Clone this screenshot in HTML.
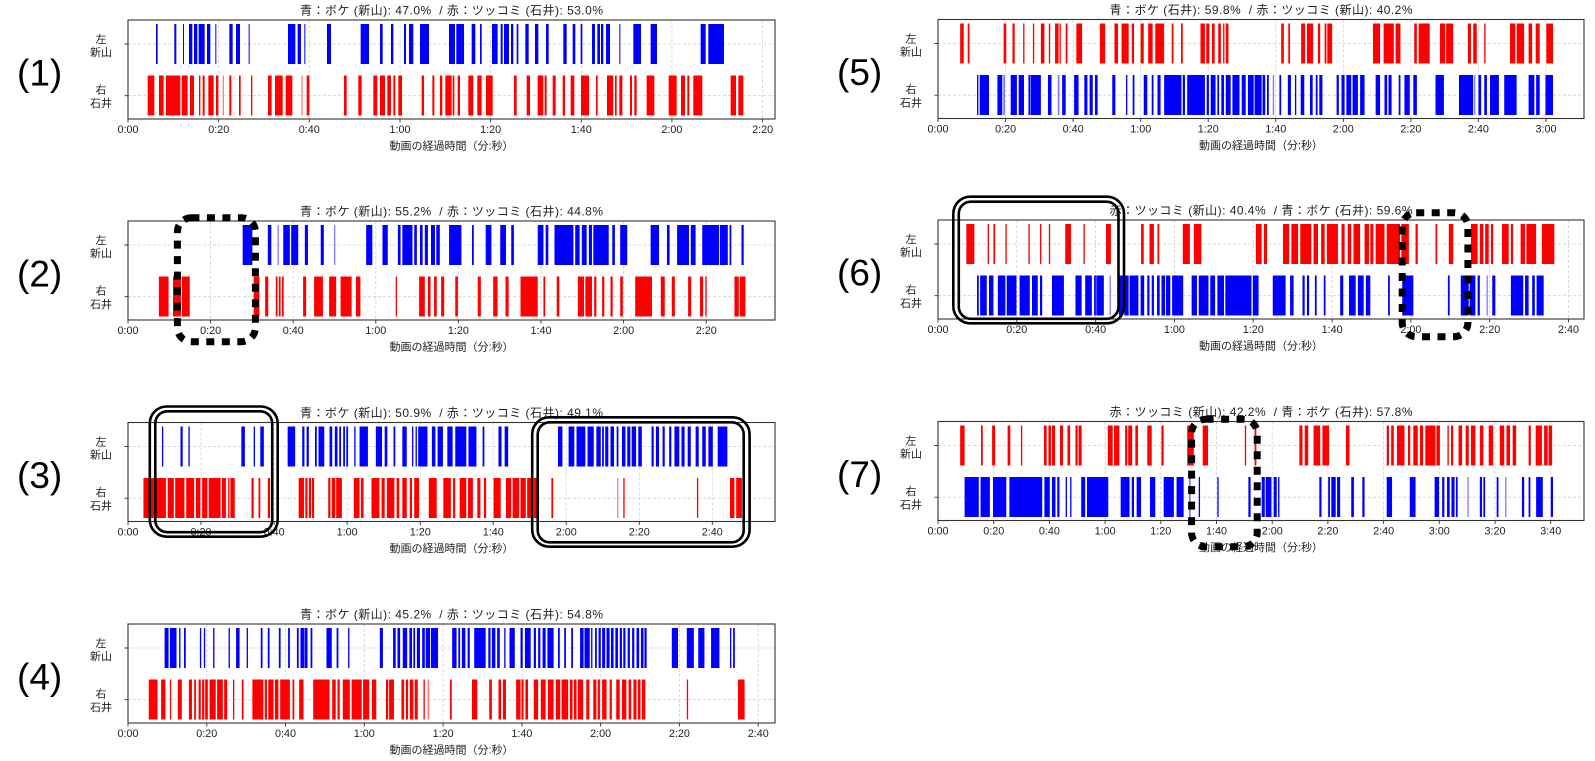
<!DOCTYPE html>
<html><head><meta charset="utf-8"><style>
html,body{margin:0;padding:0;background:#fff;}
svg{display:block}
text{font-family:"Liberation Sans","Noto Sans CJK JP",sans-serif;fill:#222}
.g{stroke:#d0d0d0;stroke-width:0.8;stroke-dasharray:3 2;fill:none}
.ax{fill:none;stroke:#333;stroke-width:1.1}
.tk{stroke:#333;stroke-width:0.9;fill:none}
.tl{font-size:10.8px;text-anchor:middle}
.tt{font-size:12px;text-anchor:middle}
.xl{font-size:11px;text-anchor:middle}
.yl{font-size:11px;text-anchor:middle}
.n{font-size:37px;fill:#000}
.b{fill:#0000ff}.r{fill:#ff0000}.lb{fill:#7f7fff}.lr{fill:#ff8080}
.dot{fill:none;stroke:#000;stroke-width:7;stroke-dasharray:8 7.5}
.dbl{fill:none;stroke:#000;stroke-width:2.6}
</style></head><body>
<svg width="1595" height="761" viewBox="0 0 1595 761" xmlns="http://www.w3.org/2000/svg">
<rect width="1595" height="761" fill="#fff"/>

<!-- ============ PANEL 1 ============ -->
<g transform="translate(0,20)">
<text class="n" x="17" y="65.5">(1)</text>
<text class="tt" x="451.5" y="-5.3" textLength="303" lengthAdjust="spacing" xml:space="preserve">青：ボケ (新山): 47.0%  / 赤：ツッコミ (石井): 53.0%</text>
<path class="g" d="M218.7 0V99M309.3 0V99M400 0V99M490.6 0V99M581.3 0V99M671.9 0V99M762.6 0V99M128 24H775M128 75.7H775"/>
<g transform="scale(0.33333,1)">
<path class="b" transform="translate(0,4)" d="M468 0H473V40H468zM523 0H529V40H523zM549 0H552V40H549zM567 0H577V40H567zM582 0H592V40H582zM596 0H614V40H596zM621 0H631V40H621zM646 0H649V40H646zM688 0H698V40H688zM708 0H720V40H708zM746 0H749V40H746zM864 0H886V40H864zM893 0H903V40H893zM913 0H916V40H913zM981 0H993V40H981zM1082 0H1107V40H1082z"/>
<path class="r" transform="translate(0,55.5)" d="M443 0H463V40H443zM477 0H491V40H477zM498 0H541V40H498zM545 0H563V40H545zM570 0H582V40H570zM597 0H601V40H597zM608 0H614V40H608zM625 0H641V40H625zM648 0H655V40H648zM688 0H694V40H688zM717 0H722V40H717zM753 0H757V40H753zM804 0H815V40H804zM825 0H848V40H825zM857 0H877V40H857zM920 0H928V40H920zM1032 0H1040V40H1032zM1075 0H1085V40H1075zM1120 0H1132V40H1120z"/>
<path class="lr" transform="translate(0,55.5)" d="M668 0H672V40H668zM904 0H908V40H904z"/>
</g>
<g transform="translate(380,0) scale(0.33333,1)">
<path class="b" transform="translate(0,4)" d="M0 0H8V40H0zM33 0H40V40H33zM72 0H78V40H72zM87 0H100V40H87zM120 0H147V40H120zM207 0H225V40H207zM229 0H252V40H229zM275 0H286V40H275zM300 0H305V40H300zM336 0H353V40H336zM362 0H368V40H362zM372 0H387V40H372zM393 0H400V40H393zM410 0H415V40H410zM436 0H446V40H436zM465 0H475V40H465zM498 0H506V40H498zM550 0H560V40H550zM578 0H586V40H578zM602 0H607V40H602zM636 0H645V40H636zM652 0H660V40H652zM663 0H670V40H663zM678 0H690V40H678zM718 0H721V40H718zM760 0H783V40H760zM812 0H831V40H812zM962 0H977V40H962zM985 0H1032V40H985z"/>
<path class="r" transform="translate(0,55.5)" d="M0 0H15V40H0zM22 0H33V40H22zM40 0H46V40H40zM55 0H66V40H55zM125 0H132V40H125zM157 0H163V40H157zM180 0H187V40H180zM196 0H215V40H196zM218 0H223V40H218zM233 0H240V40H233zM265 0H280V40H265zM292 0H305V40H292zM318 0H338V40H318zM402 0H410V40H402zM440 0H450V40H440zM473 0H490V40H473zM494 0H500V40H494zM518 0H527V40H518zM548 0H555V40H548zM572 0H583V40H572zM603 0H627V40H603zM648 0H653V40H648zM681 0H700V40H681zM705 0H710V40H705zM718 0H727V40H718zM750 0H756V40H750zM763 0H770V40H763zM800 0H823V40H800zM866 0H890V40H866zM903 0H915V40H903zM922 0H928V40H922zM940 0H967V40H940zM1052 0H1068V40H1052zM1075 0H1090V40H1075z"/>
</g>
<rect class="ax" x="128" y="0" width="647" height="99"/>
<path class="tk" d="M128 99v3.5M218.7 99v3.5M309.3 99v3.5M400 99v3.5M490.6 99v3.5M581.3 99v3.5M671.9 99v3.5M762.6 99v3.5M128 24h-3.5M128 75.7h-3.5"/>
<text class="tl" x="128" y="113">0:00</text><text class="tl" x="218.7" y="113">0:20</text><text class="tl" x="309.3" y="113">0:40</text><text class="tl" x="400" y="113">1:00</text><text class="tl" x="490.6" y="113">1:20</text><text class="tl" x="581.3" y="113">1:40</text><text class="tl" x="671.9" y="113">2:00</text><text class="tl" x="762.6" y="113">2:20</text>
<text class="xl" x="451.5" y="129.3">動画の経過時間（分:秒）</text>
<text class="yl" x="101" y="23">左</text><text class="yl" x="101" y="36">新山</text>
<text class="yl" x="101" y="73.3">右</text><text class="yl" x="101" y="87">石井</text>
</g>

<!-- ============ PANEL 2 ============ -->
<g transform="translate(0,221)">
<text class="n" x="17" y="65.5">(2)</text>
<text class="tt" x="451.5" y="-5.3" textLength="303" lengthAdjust="spacing" xml:space="preserve">青：ボケ (新山): 55.2%  / 赤：ツッコミ (石井): 44.8%</text>
<path class="g" d="M210.6 0V99M293.2 0V99M375.8 0V99M458.4 0V99M541 0V99M623.6 0V99M706.2 0V99M128 24H775M128 75.7H775"/>
<g transform="translate(128,0) scale(0.44104,1) translate(-58,0)">
<path class="b" transform="translate(0,4)" d="M318 0H340V40H318zM375 0H383V40H375zM410 0H425V40H410zM428 0H444V40H428zM459 0H466V40H459zM495 0H502V40H495zM598 0H612V40H598zM635 0H647V40H635zM670 0H676V40H670zM680 0H703V40H680zM707 0H713V40H707zM720 0H726V40H720zM731 0H738V40H731zM745 0H754V40H745zM757 0H765V40H757zM786 0H814V40H786zM838 0H842V40H838zM869 0H882V40H869zM902 0H915V40H902zM927 0H933V40H927zM987 0H1000V40H987zM1005 0H1011V40H1005zM1025 0H1068V40H1025zM1072 0H1082V40H1072zM1087 0H1098V40H1087zM1103 0H1110V40H1103zM1113 0H1148V40H1113zM1156 0H1162V40H1156zM1174 0H1190V40H1174zM1243 0H1262V40H1243zM1280 0H1286V40H1280zM1303 0H1330V40H1303zM1334 0H1345V40H1334zM1360 0H1398V40H1360zM1400 0H1418V40H1400zM1422 0H1426V40H1422zM1449 0H1454V40H1449z"/>
<path class="lb" transform="translate(0,4)" d="M397 0H400V40H397zM525 0H528V40H525z"/>
<path class="r" transform="translate(0,55.5)" d="M128 0H150V40H128zM160 0H178V40H160zM180 0H198V40H180zM343 0H356V40H343zM369 0H376V40H369zM393 0H397V40H393zM400 0H404V40H400zM407 0H411V40H407zM455 0H462V40H455zM480 0H500V40H480zM514 0H530V40H514zM540 0H565V40H540zM575 0H585V40H575zM665 0H668V40H665zM718 0H731V40H718zM738 0H744V40H738zM752 0H758V40H752zM768 0H775V40H768zM800 0H806V40H800zM851 0H858V40H851zM886 0H896V40H886zM914 0H921V40H914zM948 0H987V40H948zM1000 0H1004V40H1000zM1030 0H1036V40H1030zM1078 0H1092V40H1078zM1095 0H1110V40H1095zM1115 0H1120V40H1115zM1133 0H1138V40H1133zM1152 0H1157V40H1152zM1174 0H1180V40H1174zM1208 0H1246V40H1208zM1266 0H1275V40H1266zM1291 0H1298V40H1291zM1328 0H1335V40H1328zM1355 0H1362V40H1355zM1367 0H1370V40H1367zM1433 0H1443V40H1433zM1445 0H1458V40H1445z"/>
</g>
<rect class="ax" x="128" y="0" width="647" height="99"/>
<path class="tk" d="M128 99v3.5M210.6 99v3.5M293.2 99v3.5M375.8 99v3.5M458.4 99v3.5M541 99v3.5M623.6 99v3.5M706.2 99v3.5M128 24h-3.5M128 75.7h-3.5"/>
<text class="tl" x="128" y="113">0:00</text><text class="tl" x="210.6" y="113">0:20</text><text class="tl" x="293.2" y="113">0:40</text><text class="tl" x="375.8" y="113">1:00</text><text class="tl" x="458.4" y="113">1:20</text><text class="tl" x="541" y="113">1:40</text><text class="tl" x="623.6" y="113">2:00</text><text class="tl" x="706.2" y="113">2:20</text>
<text class="xl" x="451.5" y="129.3">動画の経過時間（分:秒）</text>
<text class="yl" x="101" y="23">左</text><text class="yl" x="101" y="36">新山</text>
<text class="yl" x="101" y="73.3">右</text><text class="yl" x="101" y="87">石井</text>
</g>

<!-- ============ PANEL 3 ============ -->
<g transform="translate(0,422.5)">
<text class="n" x="17" y="65.5">(3)</text>
<text class="tt" x="451.5" y="-5.3" textLength="303" lengthAdjust="spacing" xml:space="preserve">青：ボケ (新山): 50.9%  / 赤：ツッコミ (石井): 49.1%</text>
<path class="g" d="M201 0V99M274.1 0V99M347.1 0V99M420.2 0V99M493.2 0V99M566.2 0V99M639.3 0V99M712.3 0V99M128 24H775M128 75.7H775"/>
<g transform="translate(128,0) scale(0.44104,1) translate(-58,0)">
<path class="b" transform="translate(0,4)" d="M135 0H138V40H135zM177 0H182V40H177zM195 0H198V40H195zM315 0H323V40H315zM343 0H346V40H343zM358 0H366V40H358zM420 0H437V40H420zM453 0H458V40H453zM463 0H468V40H463zM482 0H486V40H482zM490 0H503V40H490zM515 0H521V40H515zM527 0H533V40H527zM537 0H541V40H537zM546 0H550V40H546zM553 0H557V40H553zM571 0H574V40H571zM583 0H602V40H583zM620 0H634V40H620zM640 0H646V40H640zM660 0H664V40H660zM680 0H690V40H680zM702 0H705V40H702zM710 0H713V40H710zM716 0H737V40H716zM747 0H755V40H747zM760 0H772V40H760zM782 0H794V40H782zM800 0H825V40H800zM830 0H848V40H830zM862 0H866V40H862zM898 0H905V40H898zM912 0H920V40H912zM1033 0H1043V40H1033zM1057 0H1070V40H1057zM1075 0H1095V40H1075zM1100 0H1114V40H1100zM1120 0H1130V40H1120zM1133 0H1137V40H1133zM1140 0H1147V40H1140zM1152 0H1160V40H1152zM1166 0H1170V40H1166zM1178 0H1186V40H1178zM1190 0H1197V40H1190zM1200 0H1210V40H1200zM1215 0H1223V40H1215zM1245 0H1250V40H1245zM1255 0H1262V40H1255zM1270 0H1275V40H1270zM1285 0H1290V40H1285zM1297 0H1308V40H1297zM1313 0H1320V40H1313zM1327 0H1334V40H1327zM1345 0H1352V40H1345zM1360 0H1368V40H1360zM1374 0H1384V40H1374zM1395 0H1417V40H1395z"/>
<path class="r" transform="translate(0,55.5)" d="M93 0H117V40H93zM120 0H144V40H120zM148 0H162V40H148zM165 0H186V40H165zM190 0H208V40H190zM212 0H222V40H212zM226 0H238V40H226zM241 0H268V40H241zM271 0H280V40H271zM285 0H288V40H285zM290 0H300V40H290zM338 0H343V40H338zM354 0H358V40H354zM375 0H380V40H375zM445 0H457V40H445zM460 0H465V40H460zM468 0H473V40H468zM475 0H480V40H475zM512 0H517V40H512zM520 0H528V40H520zM530 0H543V40H530zM570 0H583V40H570zM586 0H592V40H586zM610 0H628V40H610zM633 0H640V40H633zM645 0H662V40H645zM667 0H673V40H667zM680 0H690V40H680zM697 0H702V40H697zM707 0H718V40H707zM740 0H758V40H740zM773 0H790V40H773zM795 0H800V40H795zM810 0H825V40H810zM829 0H840V40H829zM850 0H857V40H850zM865 0H870V40H865zM887 0H903V40H887zM915 0H927V40H915zM930 0H945V40H930zM948 0H960V40H948zM963 0H975V40H963zM978 0H990V40H978zM1018 0H1022V40H1018zM1181 0H1184V40H1181zM1348 0H1351V40H1348zM1423 0H1433V40H1423zM1437 0H1450V40H1437z"/>
<path class="lr" transform="translate(0,55.5)" d="M1167 0H1170V40H1167z"/>
</g>
<rect class="ax" x="128" y="0" width="647" height="99"/>
<path class="tk" d="M128 99v3.5M201 99v3.5M274.1 99v3.5M347.1 99v3.5M420.2 99v3.5M493.2 99v3.5M566.2 99v3.5M639.3 99v3.5M712.3 99v3.5M128 24h-3.5M128 75.7h-3.5"/>
<text class="tl" x="128" y="113">0:00</text><text class="tl" x="201" y="113">0:20</text><text class="tl" x="274.1" y="113">0:40</text><text class="tl" x="347.1" y="113">1:00</text><text class="tl" x="420.2" y="113">1:20</text><text class="tl" x="493.2" y="113">1:40</text><text class="tl" x="566.2" y="113">2:00</text><text class="tl" x="639.3" y="113">2:20</text><text class="tl" x="712.3" y="113">2:40</text>
<text class="xl" x="451.5" y="129.3">動画の経過時間（分:秒）</text>
<text class="yl" x="101" y="23">左</text><text class="yl" x="101" y="36">新山</text>
<text class="yl" x="101" y="73.3">右</text><text class="yl" x="101" y="87">石井</text>
</g>

<!-- ============ PANEL 4 ============ -->
<g transform="translate(0,624)">
<text class="n" x="17" y="65.5">(4)</text>
<text class="tt" x="451.5" y="-5.3" textLength="303" lengthAdjust="spacing" xml:space="preserve">青：ボケ (新山): 45.2%  / 赤：ツッコミ (石井): 54.8%</text>
<path class="g" d="M206.8 0V99M285.5 0V99M364.3 0V99M443.1 0V99M521.9 0V99M600.6 0V99M679.4 0V99M758.2 0V99M128 24H775M128 75.7H775"/>
<g transform="translate(128,0) scale(0.44104,1) translate(-65,0)">
<path class="b" transform="translate(0,4)" d="M148 0H157V40H148zM160 0H175V40H160zM181 0H184V40H181zM192 0H196V40H192zM228 0H231V40H228zM237 0H240V40H237zM258 0H261V40H258zM293 0H296V40H293zM310 0H318V40H310zM334 0H337V40H334zM366 0H370V40H366zM382 0H386V40H382zM407 0H411V40H407zM428 0H432V40H428zM448 0H452V40H448zM456 0H464V40H456zM465 0H472V40H465zM479 0H483V40H479zM515 0H527V40H515zM538 0H542V40H538zM564 0H567V40H564zM636 0H643V40H636zM666 0H672V40H666zM676 0H682V40H676zM688 0H698V40H688zM703 0H709V40H703zM712 0H716V40H712zM720 0H727V40H720zM732 0H738V40H732zM740 0H750V40H740zM752 0H768V40H752zM800 0H810V40H800zM814 0H818V40H814zM822 0H830V40H822zM835 0H840V40H835zM850 0H876V40H850zM882 0H887V40H882zM890 0H898V40H890zM902 0H908V40H902zM918 0H921V40H918zM930 0H942V40H930zM955 0H960V40H955zM965 0H978V40H965zM985 0H990V40H985zM995 0H1000V40H995zM1005 0H1012V40H1005zM1016 0H1030V40H1016zM1040 0H1044V40H1040zM1054 0H1058V40H1054zM1070 0H1074V40H1070zM1090 0H1098V40H1090zM1100 0H1112V40H1100zM1115 0H1118V40H1115zM1124 0H1128V40H1124zM1132 0H1137V40H1132zM1140 0H1147V40H1140zM1150 0H1157V40H1150zM1160 0H1166V40H1160zM1170 0H1176V40H1170zM1180 0H1185V40H1180zM1188 0H1193V40H1188zM1198 0H1203V40H1198zM1208 0H1213V40H1208zM1218 0H1224V40H1218zM1228 0H1234V40H1228zM1236 0H1241V40H1236zM1298 0H1312V40H1298zM1332 0H1348V40H1332zM1358 0H1372V40H1358zM1387 0H1406V40H1387zM1430 0H1433V40H1430zM1437 0H1441V40H1437z"/>
<path class="r" transform="translate(0,55.5)" d="M112 0H132V40H112zM140 0H150V40H140zM160 0H163V40H160zM178 0H187V40H178zM203 0H210V40H203zM215 0H219V40H215zM225 0H230V40H225zM233 0H238V40H233zM240 0H246V40H240zM250 0H264V40H250zM267 0H280V40H267zM283 0H290V40H283zM303 0H306V40H303zM323 0H327V40H323zM347 0H372V40H347zM375 0H380V40H375zM383 0H395V40H383zM398 0H406V40H398zM410 0H432V40H410zM438 0H442V40H438zM453 0H463V40H453zM485 0H522V40H485zM528 0H536V40H528zM540 0H545V40H540zM552 0H568V40H552zM572 0H595V40H572zM598 0H612V40H598zM618 0H628V40H618zM650 0H655V40H650zM657 0H668V40H657zM685 0H691V40H685zM695 0H700V40H695zM704 0H712V40H704zM715 0H722V40H715zM735 0H738V40H735zM795 0H799V40H795zM845 0H857V40H845zM884 0H890V40H884zM905 0H911V40H905zM915 0H922V40H915zM945 0H955V40H945zM957 0H962V40H957zM966 0H972V40H966zM985 0H995V40H985zM1001 0H1012V40H1001zM1017 0H1030V40H1017zM1035 0H1045V40H1035zM1048 0H1063V40H1048zM1067 0H1073V40H1067zM1076 0H1082V40H1076zM1085 0H1097V40H1085zM1104 0H1111V40H1104zM1120 0H1127V40H1120zM1130 0H1135V40H1130zM1140 0H1150V40H1140zM1157 0H1162V40H1157zM1172 0H1180V40H1172zM1185 0H1195V40H1185zM1200 0H1206V40H1200zM1211 0H1218V40H1211zM1221 0H1227V40H1221zM1230 0H1238V40H1230zM1332 0H1335V40H1332zM1448 0H1463V40H1448z"/>
<path class="lr" transform="translate(0,55.5)" d="M744 0H748V40H744z"/>
</g>
<rect class="ax" x="128" y="0" width="647" height="99"/>
<path class="tk" d="M128 99v3.5M206.8 99v3.5M285.5 99v3.5M364.3 99v3.5M443.1 99v3.5M521.9 99v3.5M600.6 99v3.5M679.4 99v3.5M758.2 99v3.5M128 24h-3.5M128 75.7h-3.5"/>
<text class="tl" x="128" y="113">0:00</text><text class="tl" x="206.8" y="113">0:20</text><text class="tl" x="285.5" y="113">0:40</text><text class="tl" x="364.3" y="113">1:00</text><text class="tl" x="443.1" y="113">1:20</text><text class="tl" x="521.9" y="113">1:40</text><text class="tl" x="600.6" y="113">2:00</text><text class="tl" x="679.4" y="113">2:20</text><text class="tl" x="758.2" y="113">2:40</text>
<text class="xl" x="451.5" y="129.3">動画の経過時間（分:秒）</text>
<text class="yl" x="101" y="23">左</text><text class="yl" x="101" y="36">新山</text>
<text class="yl" x="101" y="73.3">右</text><text class="yl" x="101" y="87">石井</text>
</g>

<!-- ============ PANEL 5 ============ -->
<g transform="translate(0,19.5)">
<text class="n" x="837" y="65.5">(5)</text>
<text class="tt" x="1261" y="-5.3" textLength="303" lengthAdjust="spacing" xml:space="preserve">青：ボケ (石井): 59.8%  / 赤：ツッコミ (新山): 40.2%</text>
<path class="g" d="M1005.6 0V99M1073.1 0V99M1140.7 0V99M1208.2 0V99M1275.8 0V99M1343.3 0V99M1410.9 0V99M1478.4 0V99M1546 0V99M938 24H1584M938 75.7H1584"/>
<g transform="translate(938,0) scale(0.4434,1) translate(-88,0)">
<path class="r" transform="translate(0,4)" d="M138 0H146V40H138zM155 0H159V40H155zM236 0H242V40H236zM256 0H261V40H256zM280 0H283V40H280zM302 0H305V40H302zM320 0H328V40H320zM338 0H341V40H338zM352 0H360V40H352zM362 0H365V40H362zM376 0H380V40H376zM400 0H413V40H400zM453 0H465V40H453zM486 0H494V40H486zM502 0H518V40H502zM525 0H530V40H525zM545 0H552V40H545zM562 0H572V40H562zM578 0H598V40H578zM615 0H619V40H615zM636 0H640V40H636zM680 0H690V40H680zM693 0H700V40H693zM706 0H712V40H706zM720 0H726V40H720zM731 0H734V40H731zM737 0H743V40H737zM862 0H868V40H862zM878 0H882V40H878zM907 0H916V40H907zM920 0H934V40H920zM945 0H950V40H945zM960 0H964V40H960zM966 0H977V40H966zM1069 0H1085V40H1069zM1093 0H1116V40H1093zM1120 0H1131V40H1120zM1162 0H1168V40H1162zM1172 0H1197V40H1172zM1220 0H1232V40H1220zM1234 0H1250V40H1234zM1283 0H1290V40H1283zM1295 0H1303V40H1295zM1320 0H1323V40H1320zM1378 0H1390V40H1378zM1393 0H1410V40H1393zM1420 0H1428V40H1420zM1436 0H1445V40H1436zM1460 0H1475V40H1460z"/>
<path class="b" transform="translate(0,55.5)" d="M176 0H179V40H176zM182 0H203V40H182zM222 0H233V40H222zM236 0H238V40H236zM252 0H266V40H252zM270 0H282V40H270zM292 0H296V40H292zM297 0H320V40H297zM336 0H344V40H336zM368 0H376V40H368zM395 0H405V40H395zM418 0H425V40H418zM430 0H437V40H430zM442 0H448V40H442zM481 0H488V40H481zM512 0H515V40H512zM527 0H531V40H527zM552 0H560V40H552zM570 0H574V40H570zM583 0H590V40H583zM598 0H637V40H598zM640 0H645V40H640zM650 0H690V40H650zM694 0H699V40H694zM703 0H714V40H703zM718 0H722V40H718zM727 0H733V40H727zM737 0H748V40H737zM752 0H768V40H752zM773 0H782V40H773zM787 0H800V40H787zM802 0H818V40H802zM820 0H826V40H820zM830 0H834V40H830zM858 0H862V40H858zM877 0H884V40H877zM893 0H896V40H893zM906 0H914V40H906zM927 0H933V40H927zM940 0H944V40H940zM948 0H955V40H948zM987 0H992V40H987zM998 0H1005V40H998zM1009 0H1020V40H1009zM1023 0H1035V40H1023zM1040 0H1050V40H1040zM1075 0H1085V40H1075zM1095 0H1101V40H1095zM1104 0H1111V40H1104zM1127 0H1131V40H1127zM1140 0H1152V40H1140zM1160 0H1168V40H1160zM1210 0H1229V40H1210zM1263 0H1295V40H1263zM1307 0H1313V40H1307zM1320 0H1326V40H1320zM1333 0H1353V40H1333zM1365 0H1393V40H1365zM1420 0H1433V40H1420zM1437 0H1445V40H1437zM1458 0H1475V40H1458z"/>
<path class="lb" transform="translate(0,55.5)" d="M358 0H362V40H358zM843 0H846V40H843zM1297 0H1300V40H1297z"/>
</g>
<rect class="ax" x="938" y="0" width="646" height="99"/>
<path class="tk" d="M938 99v3.5M1005.6 99v3.5M1073.1 99v3.5M1140.7 99v3.5M1208.2 99v3.5M1275.8 99v3.5M1343.3 99v3.5M1410.9 99v3.5M1478.4 99v3.5M1546 99v3.5M938 24h-3.5M938 75.7h-3.5"/>
<text class="tl" x="938" y="113">0:00</text><text class="tl" x="1005.6" y="113">0:20</text><text class="tl" x="1073.1" y="113">0:40</text><text class="tl" x="1140.7" y="113">1:00</text><text class="tl" x="1208.2" y="113">1:20</text><text class="tl" x="1275.8" y="113">1:40</text><text class="tl" x="1343.3" y="113">2:00</text><text class="tl" x="1410.9" y="113">2:20</text><text class="tl" x="1478.4" y="113">2:40</text><text class="tl" x="1546" y="113">3:00</text>
<text class="xl" x="1261" y="129.3">動画の経過時間（分:秒）</text>
<text class="yl" x="911" y="23">左</text><text class="yl" x="911" y="36">新山</text>
<text class="yl" x="911" y="73.3">右</text><text class="yl" x="911" y="87">石井</text>
</g>

<!-- ============ PANEL 6 ============ -->
<g transform="translate(0,220)">
<text class="n" x="837" y="65.5">(6)</text>
<text class="tt" x="1261" y="-5.3" textLength="303" lengthAdjust="spacing" xml:space="preserve">赤：ツッコミ (新山): 40.4%  / 青：ボケ (石井): 59.6%</text>
<path class="g" d="M1016.8 0V99M1095.6 0V99M1174.4 0V99M1253.2 0V99M1332.1 0V99M1410.9 0V99M1489.7 0V99M1568.5 0V99M938 24H1584M938 75.7H1584"/>
<g transform="translate(938,0) scale(0.4434,1) translate(-88,0)">
<path class="r" transform="translate(0,4)" d="M152 0H170V40H152zM200 0H203V40H200zM213 0H217V40H213zM240 0H243V40H240zM292 0H295V40H292zM318 0H321V40H318zM338 0H341V40H338zM375 0H388V40H375zM416 0H419V40H416zM467 0H478V40H467zM546 0H552V40H546zM565 0H575V40H565zM583 0H587V40H583zM640 0H656V40H640zM665 0H682V40H665zM805 0H818V40H805zM823 0H830V40H823zM866 0H880V40H866zM885 0H900V40H885zM905 0H930V40H905zM935 0H945V40H935zM952 0H960V40H952zM965 0H990V40H965zM998 0H1005V40H998zM1012 0H1020V40H1012zM1025 0H1040V40H1025zM1050 0H1060V40H1050zM1063 0H1070V40H1063zM1075 0H1095V40H1075zM1100 0H1130V40H1100zM1133 0H1150V40H1133zM1165 0H1170V40H1165zM1210 0H1214V40H1210zM1240 0H1250V40H1240zM1290 0H1305V40H1290zM1310 0H1318V40H1310zM1322 0H1330V40H1322zM1335 0H1340V40H1335zM1360 0H1375V40H1360zM1380 0H1385V40H1380zM1402 0H1412V40H1402zM1415 0H1437V40H1415zM1450 0H1478V40H1450z"/>
<path class="b" transform="translate(0,55.5)" d="M176 0H180V40H176zM183 0H198V40H183zM203 0H213V40H203zM223 0H240V40H223zM243 0H265V40H243zM272 0H295V40H272zM300 0H313V40H300zM318 0H323V40H318zM345 0H372V40H345zM398 0H412V40H398zM420 0H435V40H420zM440 0H444V40H440zM445 0H462V40H445zM496 0H505V40H496zM508 0H518V40H508zM520 0H540V40H520zM545 0H553V40H545zM560 0H565V40H560zM570 0H575V40H570zM582 0H588V40H582zM592 0H600V40H592zM602 0H612V40H602zM616 0H641V40H616zM660 0H672V40H660zM676 0H698V40H676zM702 0H713V40H702zM718 0H733V40H718zM736 0H795V40H736zM798 0H811V40H798zM843 0H872V40H843zM882 0H890V40H882zM910 0H915V40H910zM920 0H925V40H920zM938 0H942V40H938zM958 0H962V40H958zM995 0H1002V40H995zM1015 0H1030V40H1015zM1035 0H1048V40H1035zM1053 0H1063V40H1053zM1103 0H1107V40H1103zM1135 0H1160V40H1135zM1238 0H1242V40H1238zM1267 0H1285V40H1267zM1287 0H1300V40H1287zM1305 0H1310V40H1305zM1338 0H1345V40H1338zM1380 0H1408V40H1380zM1412 0H1420V40H1412zM1428 0H1434V40H1428zM1438 0H1454V40H1438z"/>
<path class="lb" transform="translate(0,55.5)" d="M475 0H478V40H475zM1325 0H1328V40H1325z"/>
</g>
<rect class="ax" x="938" y="0" width="646" height="99"/>
<path class="tk" d="M938 99v3.5M1016.8 99v3.5M1095.6 99v3.5M1174.4 99v3.5M1253.2 99v3.5M1332.1 99v3.5M1410.9 99v3.5M1489.7 99v3.5M1568.5 99v3.5M938 24h-3.5M938 75.7h-3.5"/>
<text class="tl" x="938" y="113">0:00</text><text class="tl" x="1016.8" y="113">0:20</text><text class="tl" x="1095.6" y="113">0:40</text><text class="tl" x="1174.4" y="113">1:00</text><text class="tl" x="1253.2" y="113">1:20</text><text class="tl" x="1332.1" y="113">1:40</text><text class="tl" x="1410.9" y="113">2:00</text><text class="tl" x="1489.7" y="113">2:20</text><text class="tl" x="1568.5" y="113">2:40</text>
<text class="xl" x="1261" y="129.3">動画の経過時間（分:秒）</text>
<text class="yl" x="911" y="23">左</text><text class="yl" x="911" y="36">新山</text>
<text class="yl" x="911" y="73.3">右</text><text class="yl" x="911" y="87">石井</text>
</g>

<!-- ============ PANEL 7 ============ -->
<g transform="translate(0,421.5)">
<text class="n" x="837" y="65.5">(7)</text>
<text class="tt" x="1261" y="-5.3" textLength="303" lengthAdjust="spacing" xml:space="preserve">赤：ツッコミ (新山): 42.2%  / 青：ボケ (石井): 57.8%</text>
<path class="g" d="M993.7 0V99M1049.4 0V99M1105.1 0V99M1160.8 0V99M1216.5 0V99M1272.2 0V99M1327.9 0V99M1383.6 0V99M1439.3 0V99M1495 0V99M1550.7 0V99M938 24H1584M938 75.7H1584"/>
<g transform="translate(938,0) scale(0.4434,1) translate(-88,0)">
<path class="r" transform="translate(0,4)" d="M138 0H148V40H138zM185 0H189V40H185zM210 0H217V40H210zM245 0H251V40H245zM275 0H278V40H275zM327 0H333V40H327zM337 0H343V40H337zM345 0H352V40H345zM363 0H370V40H363zM380 0H386V40H380zM398 0H403V40H398zM405 0H412V40H405zM471 0H482V40H471zM485 0H497V40H485zM510 0H515V40H510zM517 0H526V40H517zM533 0H539V40H533zM560 0H570V40H560zM592 0H597V40H592zM650 0H665V40H650zM685 0H697V40H685zM780 0H783V40H780zM802 0H806V40H802zM903 0H910V40H903zM915 0H923V40H915zM935 0H950V40H935zM955 0H970V40H955zM1008 0H1016V40H1008zM1100 0H1105V40H1100zM1110 0H1116V40H1110zM1123 0H1140V40H1123zM1148 0H1153V40H1148zM1160 0H1170V40H1160zM1175 0H1182V40H1175zM1187 0H1210V40H1187zM1212 0H1220V40H1212zM1237 0H1240V40H1237zM1245 0H1250V40H1245zM1262 0H1270V40H1262zM1278 0H1285V40H1278zM1290 0H1300V40H1290zM1310 0H1318V40H1310zM1330 0H1340V40H1330zM1355 0H1365V40H1355zM1370 0H1378V40H1370zM1384 0H1392V40H1384zM1420 0H1425V40H1420zM1436 0H1450V40H1436zM1455 0H1463V40H1455zM1465 0H1473V40H1465z"/>
<path class="b" transform="translate(0,55.5)" d="M148 0H180V40H148zM184 0H205V40H184zM212 0H242V40H212zM249 0H323V40H249zM328 0H340V40H328zM345 0H353V40H345zM357 0H362V40H357zM376 0H379V40H376zM386 0H389V40H386zM411 0H420V40H411zM424 0H472V40H424zM500 0H520V40H500zM525 0H530V40H525zM536 0H546V40H536zM566 0H578V40H566zM597 0H620V40H597zM626 0H642V40H626zM676 0H679V40H676zM718 0H721V40H718zM788 0H793V40H788zM818 0H825V40H818zM827 0H840V40H827zM845 0H852V40H845zM855 0H858V40H855zM948 0H953V40H948zM968 0H972V40H968zM975 0H985V40H975zM988 0H995V40H988zM1020 0H1026V40H1020zM1045 0H1050V40H1045zM1100 0H1112V40H1100zM1152 0H1165V40H1152zM1208 0H1218V40H1208zM1225 0H1230V40H1225zM1236 0H1242V40H1236zM1246 0H1253V40H1246zM1256 0H1260V40H1256zM1310 0H1315V40H1310zM1318 0H1322V40H1318zM1348 0H1352V40H1348zM1405 0H1410V40H1405zM1420 0H1424V40H1420zM1437 0H1452V40H1437zM1470 0H1475V40H1470z"/>
<path class="lb" transform="translate(0,55.5)" d="M654 0H658V40H654zM1282 0H1285V40H1282zM1367 0H1370V40H1367z"/>
</g>
<rect class="ax" x="938" y="0" width="646" height="99"/>
<path class="tk" d="M938 99v3.5M993.7 99v3.5M1049.4 99v3.5M1105.1 99v3.5M1160.8 99v3.5M1216.5 99v3.5M1272.2 99v3.5M1327.9 99v3.5M1383.6 99v3.5M1439.3 99v3.5M1495 99v3.5M1550.7 99v3.5M938 24h-3.5M938 75.7h-3.5"/>
<text class="tl" x="938" y="113">0:00</text><text class="tl" x="993.7" y="113">0:20</text><text class="tl" x="1049.4" y="113">0:40</text><text class="tl" x="1105.1" y="113">1:00</text><text class="tl" x="1160.8" y="113">1:20</text><text class="tl" x="1216.5" y="113">1:40</text><text class="tl" x="1272.2" y="113">2:00</text><text class="tl" x="1327.9" y="113">2:20</text><text class="tl" x="1383.6" y="113">2:40</text><text class="tl" x="1439.3" y="113">3:00</text><text class="tl" x="1495" y="113">3:20</text><text class="tl" x="1550.7" y="113">3:40</text>
<text class="xl" x="1261" y="129.3">動画の経過時間（分:秒）</text>
<text class="yl" x="911" y="23">左</text><text class="yl" x="911" y="36">新山</text>
<text class="yl" x="911" y="73.3">右</text><text class="yl" x="911" y="87">石井</text>
</g>

<!-- ============ OVERLAYS ============ -->
<rect class="dot" x="177.4" y="217.7" width="78" height="124" rx="14"/>
<rect class="dbl" x="149.8" y="406.5" width="127.9" height="130.2" rx="17"/>
<rect class="dbl" x="155.3" y="411.3" width="116.9" height="120.9" rx="12"/>
<rect class="dbl" x="532.2" y="417.3" width="217.4" height="129.4" rx="17"/>
<rect class="dbl" x="537.7" y="422.3" width="206" height="120" rx="12"/>
<rect class="dbl" x="953.3" y="196.7" width="170.7" height="126.6" rx="17"/>
<rect class="dbl" x="958.8" y="201.7" width="159.7" height="117.1" rx="12"/>
<rect class="dot" x="1402.2" y="212.7" width="65.7" height="124" rx="14"/>
<rect class="dot" x="1191.6" y="419.3" width="65.6" height="127.4" rx="14"/>
</svg>
</body></html>
